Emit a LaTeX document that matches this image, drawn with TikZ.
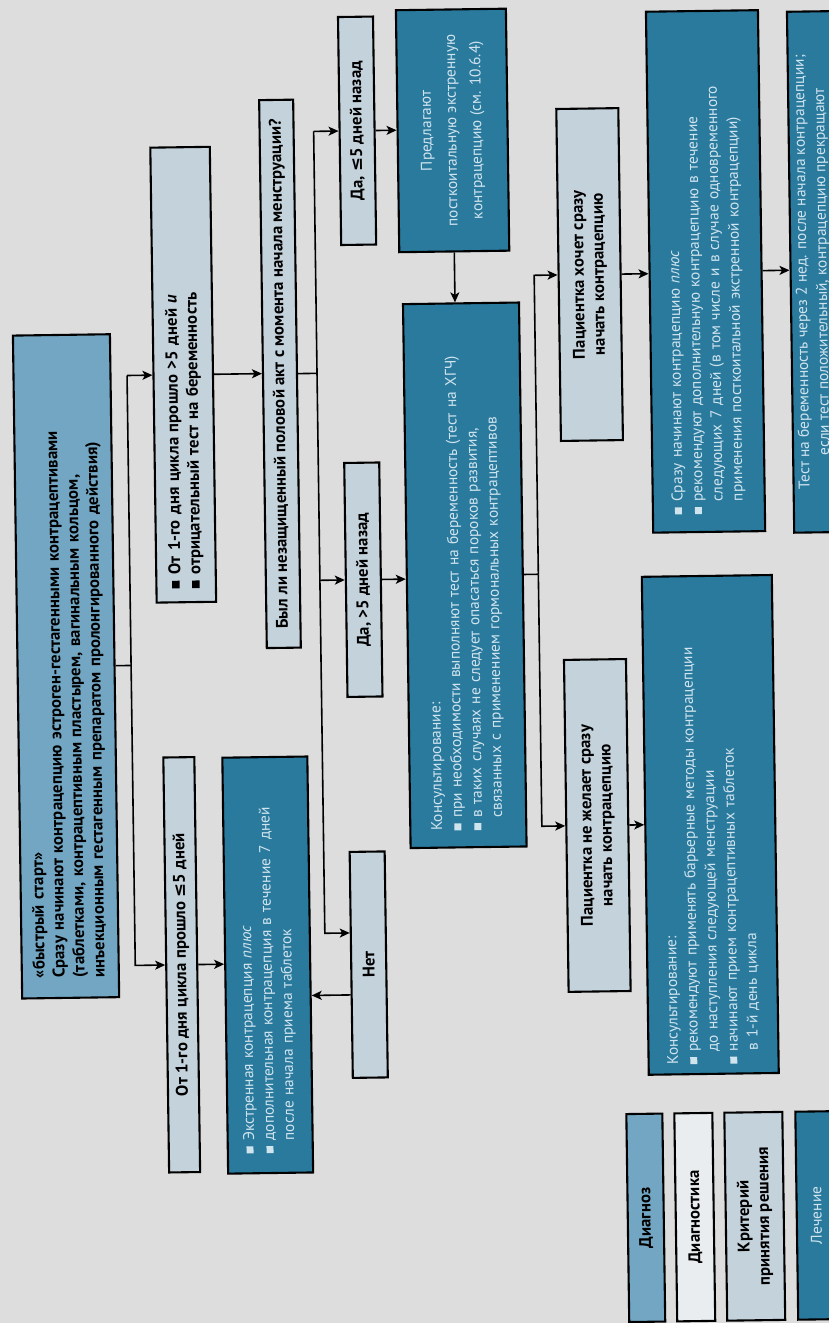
\documentclass[tikz,border=0pt]{standalone}
\usepackage{fontspec}
\setmainfont{PT Sans}
\newfontfamily\symf{DejaVu Sans}
\usetikzlibrary{arrows.meta}
\definecolor{paper}{RGB}{221,221,221}
\definecolor{diagfill}{RGB}{114,166,195}
\definecolor{critfill}{RGB}{196,210,220}
\definecolor{dxfill}{RGB}{233,237,240}
\definecolor{treatfill}{RGB}{42,122,158}
\definecolor{treattext}{RGB}{208,228,238}
% square bullet, hanging indent and the "less or equal" sign
\newcommand\sq{\rule[0.05em]{0.45em}{0.45em}\hspace{0.35em}}
\newcommand\ind{\hspace*{0.8em}}
\newcommand\lesym{{\symf ≤}}
\begin{document}
\begin{tikzpicture}[x=1pt,y=-1pt,
  bx/.style={draw=black, line width=2.1pt, rotate=90, inner sep=0pt},
  sz/.style 2 args={minimum width=#1pt, minimum height=#2pt},
  boldtext/.style={font=\bfseries\fontsize{16.8}{20}\selectfont},
  crit/.style={bx, fill=critfill, boldtext, align=center},
  diag/.style={bx, fill=diagfill, boldtext},
  treat/.style={bx, fill=treatfill, text=treattext, font=\fontsize{15.5}{20}\selectfont},
  ln/.style={line width=1.6pt},
  arr/.style={ln, -{Stealth[length=10pt,width=9pt,inset=2.5pt]}},
]
\useasboundingbox (0,0) rectangle (829,1323);
\fill[paper] (0,0) rectangle (829,1323);
\clip (0,0) rectangle (829,1323);
\begin{scope}[transform canvas={rotate around={0.8:(414.5,661.5)}}]

% ---- boxes ----
\node[diag, sz={663}{97}, text width=623pt, align=left] (A) at (66,661.5)
  {«быстрый старт»\\
   Сразу начинают контрацепцию эстроген-гестагенными контрацептивами\\
   (таблетками, контрацептивным пластырем, вагинальным кольцом,\\
   инъекционным гестагенным препаратом пролонгированного действия)};

\node[crit, sz={455}{59.5}, text width=427pt, align=left] (B2) at (187.25,371.5)
  {\sq От 1-го дня цикла прошло >5 дней \textit{и}\\
   \sq отрицательный тест на беременность};

\node[crit, sz={415}{31}] (B1) at (177.5,961.5)
  {От 1-го дня цикла прошло \lesym5 дней};

\node[treat, sz={416}{85}, text width=376pt, align=left] (E1) at (263.5,963)
  {\sq Экстренная контрацепция \textit{плюс}\\
   \sq дополнительная контрацепция в течение 7 дней\\
   \ind после начала приема таблеток};

\node[crit, sz={548}{34}] (C) at (284,372)
  {Был ли незащищенный половой акт с момента начала менструации?};

\node[crit, sz={228}{35}] (D2) at (364.5,130) {Да, \lesym5 дней назад};
\node[crit, sz={234}{35}] (D1) at (364.5,579) {Да, >5 дней назад};
\node[crit, sz={226}{35}] (Net) at (364.5,964) {Нет};

\node[treat, sz={242}{110}, align=center, font=\fontsize{15.5}{25}\selectfont] (F2) at (460,131)
  {Предлагают\\ посткоитальную экстренную\\ контрацепцию (см. 10.6.4)};

\node[treat, sz={544}{116}, text width=510pt, align=left] (G) at (466,576)
  {Консультирование:\\
   \sq при необходимости выполняют тест на беременность (тест на ХГЧ)\\
   \sq в таких случаях не следует опасаться пороков развития,\\
   \ind связанных с применением гормональных контрацептивов};

\node[crit, sz={332}{62}] (H2) at (595,277)
  {Пациентка хочет сразу\\ начать контрацепцию};
\node[crit, sz={332}{62}] (H1) at (595,828)
  {Пациентка не желает сразу\\ начать контрацепцию};

\node[treat, sz={521}{112}, text width=485pt, align=left] (I2) at (711,275.5)
  {\sq Сразу начинают контрацепцию \textit{плюс}\\
   \sq рекомендуют дополнительную контрацепцию в течение\\
   \ind следующих 7 дней (в том числе и в случае одновременного\\
   \ind применения посткоитальной экстренной контрацепции)};

\node[treat, sz={498}{130}, text width=478pt, align=left] (I1) at (708,829)
  {Консультирование:\\
   \sq рекомендуют применять барьерные методы контрацепции\\
   \ind до наступления следующей менструации\\
   \sq начинают прием контрацептивных таблеток\\
   \ind в 1-й день цикла};

\node[treat, sz={521}{44}, align=center] (J2) at (818,277.5)
  {Тест на беременность через 2 нед. после начала контрацепции;\\
   если тест положительный, контрацепцию прекращают};

% ---- legend ----
\node[diag, sz={208}{36}] (L1) at (638,1221) {Диагноз};
\node[bx, fill=dxfill, boldtext, sz={208}{38}] (L2) at (687,1221) {Диагностика};
\node[crit, sz={208}{58}] (L3) at (747,1221) {Критерий\\ принятия решения};
\node[treat, sz={208}{39}] (L4) at (808.5,1221) {Лечение};

% ---- connectors ----
\draw[ln] (A.south) -- ([xshift=15.5pt]A.south) coordinate (t1);
\draw[arr] (t1 |- B2.north) -- (B2.north);
\draw[arr] (t1 |- B2.north) -- (t1 |- B1.north) -- (B1.north);
\draw[arr] (B1.south) -- (B1.south -| E1.north);
\draw[arr] (B2.south) -- (B2.south -| C.north);

\draw[ln] (C.south) -- ([xshift=19pt]C.south) coordinate (t2);
\coordinate (netin) at ([yshift=32pt]Net.north);
\coordinate (netout) at ([yshift=-30pt]Net.north);
\draw[arr] (t2 |- D2.north) -- (D2.north);
\draw[arr] (t2 |- D1.north) -- (D1.north);
\draw[arr] (t2 |- D2.north) -- (t2 |- netin) -- (netin);
\draw[arr] (netout) -- (netout -| E1.south);

\draw[arr] (D2.south) -- (D2.south -| F2.north);
\draw[arr] (D1.south) -- (D1.south -| G.north);
\draw[arr] (F2.west) -- (F2.west |- G.east);

\draw[ln] (G.south) -- ([xshift=14.5pt]G.south) coordinate (t3);
\draw[arr] (t3) -- (t3 |- H2.north) -- (H2.north);
\draw[arr] (t3) -- (t3 |- H1.north) -- (H1.north);
\draw[arr] (H2.south) -- (H2.south -| I2.north);
\draw[arr] (I2.south) -- (I2.south -| J2.north);
\draw[arr] (H1.south) -- (H1.south -| I1.north);
\end{scope}
\end{tikzpicture}
\end{document}
